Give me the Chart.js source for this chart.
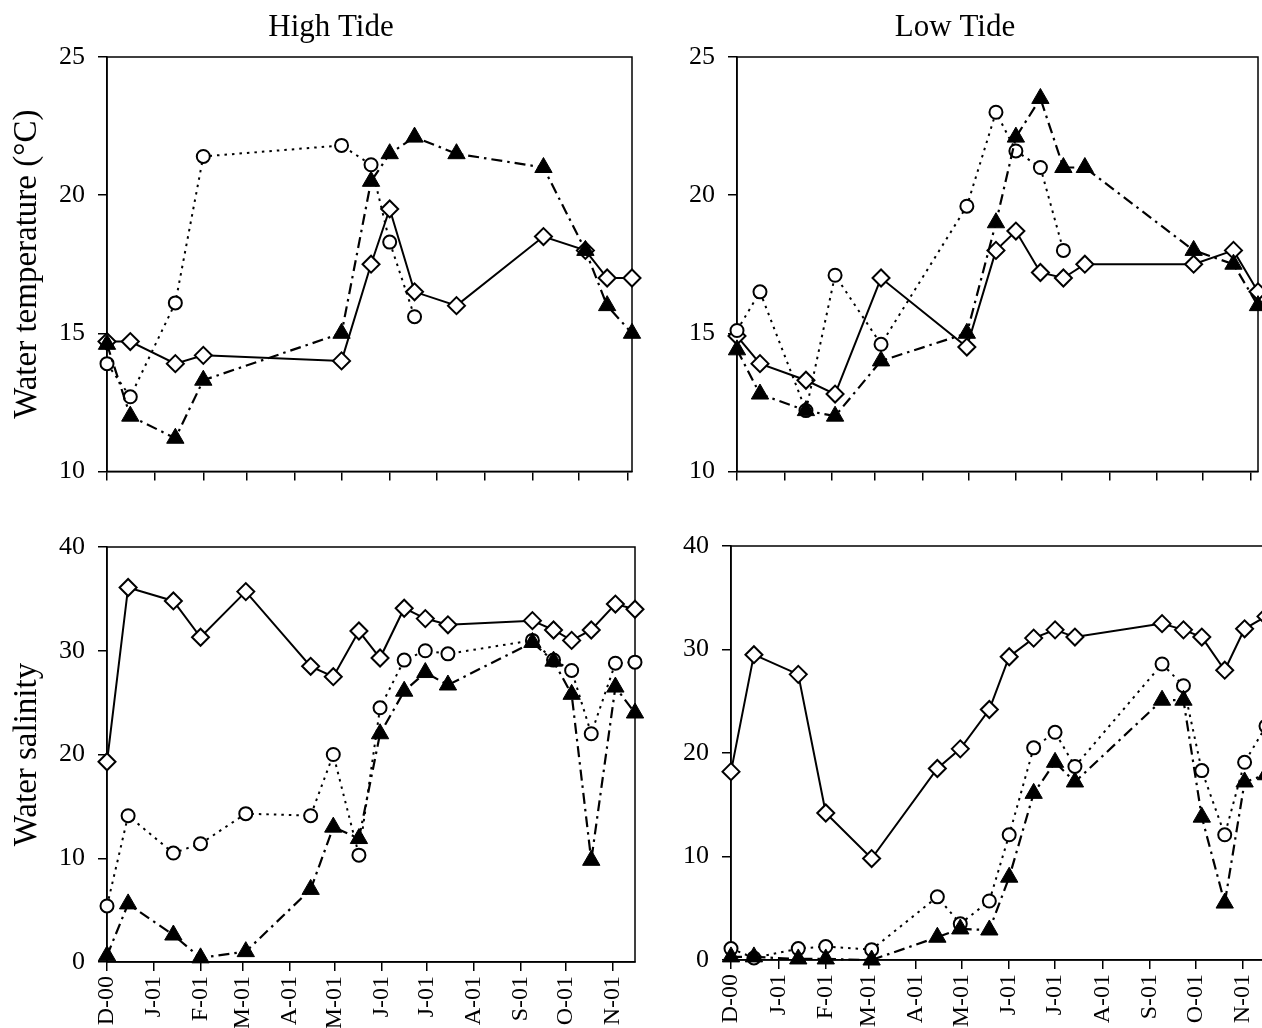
<!DOCTYPE html>
<html>
<head>
  <meta charset="UTF-8">
  <title>Water temperature and salinity at high and low tide</title>
  <script src="https://cdn.jsdelivr.net/npm/chart.js"></script>
  <style>
    html, body { margin: 0; padding: 0; background: #fff; overflow: hidden; }
    body { width: 1262px; height: 1028px; position: relative; }
    canvas { position: absolute; }
  </style>
</head>
<body>
  <canvas id="htTemp"></canvas>
  <canvas id="ltTemp"></canvas>
  <canvas id="htSal"></canvas>
  <canvas id="ltSal"></canvas>
  <script>
    // x is days since 1 Dec 2000, ticks on the first of each month
    const monthDays = [0, 31, 62, 90, 121, 151, 182, 212, 243, 274, 304, 335];
    const monthLabels = ["D-00", "J-01", "F-01", "M-01", "A-01", "M-01", "J-01", "J-01", "A-01", "S-01", "O-01", "N-01"];

    // high tide, temperature
    const htTempDays = [0, 15, 44, 62, 151, 170, 182, 198, 225, 281, 308, 322, 338];
    const htTempDiamond = [14.7, 14.7, 13.9, 14.2, 14.0, 17.5, 19.5, 16.5, 16.0, 18.5, 18.0, 17.0, 17.0];
    const htTempTriangle = [14.6, 12.0, 11.2, 13.3, 15.0, 20.5, 21.5, 22.1, 21.5, 21.0, 18.0, 16.0, 15.0];
    const htTempCircleDays = [0, 15, 44, 62, 151, 170, 182, 198];
    const htTempCircle = [13.9, 12.7, 16.1, 21.4, 21.8, 21.1, 18.3, 15.6];

    // low tide, temperature
    const ltTempDays = [0, 15, 45, 64, 94, 150, 169, 182, 198, 213, 227, 298, 324, 340];
    const ltTempDiamond = [14.9, 13.9, 13.3, 12.8, 17.0, 14.5, 18.0, 18.7, 17.2, 17.0, 17.5, 17.5, 18.0, 16.5];
    const ltTempTriangle = [14.4, 12.8, 12.2, 12.0, 14.0, 15.0, 19.0, 22.1, 23.5, 21.0, 21.0, 18.0, 17.5, 16.0];
    const ltTempCircleDays = [0, 15, 45, 64, 94, 150, 169, 182, 198, 213];
    const ltTempCircle = [15.1, 16.5, 12.2, 17.1, 14.6, 19.6, 23.0, 21.6, 21.0, 18.0];

    // high tide, salinity
    const htSalDays = [0, 14, 44, 62, 92, 135, 150, 167, 181, 197, 211, 226, 282, 296, 308, 321, 337, 350];
    const htSalDiamond = [19.3, 36.1, 34.8, 31.3, 35.7, 28.5, 27.5, 31.9, 29.3, 34.1, 33.1, 32.5, 32.9, 32.0, 31.0, 32.0, 34.5, 34.0];
    const htSalCircle = [5.4, 14.1, 10.5, 11.4, 14.3, 14.1, 20.0, 10.3, 24.5, 29.1, 30.0, 29.7, 31.0, 29.1, 28.1, 22.0, 28.8, 28.9];
    const htSalTriangle = [0.6, 5.6, 2.6, 0.4, 1.0, 7.0, 13.0, 11.9, 22.0, 26.1, 27.9, 26.7, 30.8, 29.0, 25.8, 9.8, 26.5, 24.0];

    // low tide, salinity
    const ltSalDays = [0, 15, 44, 62, 92, 135, 150, 169, 182, 198, 212, 225, 282, 296, 308, 323, 336, 350];
    const ltSalDiamond = [18.2, 29.5, 27.6, 14.2, 9.8, 18.5, 20.4, 24.2, 29.3, 31.1, 31.9, 31.2, 32.5, 31.9, 31.2, 28.0, 32.0, 33.2];
    const ltSalCircle = [1.1, 0.2, 1.1, 1.3, 1.0, 6.1, 3.5, 5.7, 12.1, 20.5, 22.0, 18.7, 28.6, 26.5, 18.3, 12.1, 19.1, 22.6];
    const ltSalTriangle = [0.3, 0.3, 0.1, 0.1, 0.0, 2.2, 3.0, 2.9, 8.0, 16.1, 19.1, 17.2, 25.1, 25.1, 13.8, 5.5, 17.2, 17.9];

    const serif = "'Liberation Serif', 'Times New Roman', serif";
    Chart.defaults.font.family = serif;
    Chart.defaults.color = "#000";
    Chart.defaults.animation = false;

    const ink = "#000";
    const styles = {
      triangle: {
        pointStyle: "triangle", pointRadius: 10, pointBackgroundColor: ink, pointBorderColor: ink,
        pointBorderWidth: 1, borderColor: ink, borderWidth: 2.2, borderDash: [11, 5, 2.5, 5]
      },
      circle: {
        pointStyle: "circle", pointRadius: 6.5, pointBackgroundColor: "#fff", pointBorderColor: ink,
        pointBorderWidth: 2, borderColor: ink, borderWidth: 2, borderDash: [2.5, 5]
      },
      diamond: {
        pointStyle: "rectRot", pointRadius: 8.5, pointBackgroundColor: "#fff", pointBorderColor: ink,
        pointBorderWidth: 2, borderColor: ink, borderWidth: 2
      }
    };

    // box round the plot area
    const frame = {
      id: "frame",
      beforeDatasetsDraw(chart) {
        const { ctx, chartArea: a } = chart;
        ctx.save();
        ctx.strokeStyle = ink;
        ctx.lineWidth = 1.5;
        ctx.strokeRect(a.left, a.top, a.right - a.left, a.bottom - a.top);
        ctx.restore();
      }
    };

    // "High Tide" / "Low Tide" above the top panels
    const panelTitle = {
      id: "panelTitle",
      afterDraw(chart, args, opts) {
        if (!opts.text) return;
        const ctx = chart.ctx;
        ctx.save();
        ctx.font = "31px " + serif;
        ctx.fillStyle = ink;
        ctx.textAlign = "center";
        ctx.textBaseline = "alphabetic";
        ctx.fillText(opts.text, opts.x, opts.y);
        ctx.restore();
      }
    };

    function pts(days, vals) {
      return vals.map((v, i) => ({ x: days[i], y: v }));
    }

    function panel(id, cfg) {
      const canvas = document.getElementById(id);
      canvas.width = cfg.w;
      canvas.height = cfg.h;
      canvas.style.left = cfg.x + "px";
      canvas.style.top = cfg.y + "px";
      const axisLine = { drawOnChartArea: false, tickLength: 9, color: ink, lineWidth: 1.5 };
      return new Chart(canvas, {
        type: "scatter",
        data: {
          datasets: cfg.series.map(([kind, days, vals]) => Object.assign({
            data: pts(days, vals), showLine: true, clip: false, fill: false, tension: 0
          }, styles[kind]))
        },
        options: {
          responsive: false,
          events: [],
          layout: { padding: cfg.pad },
          plugins: {
            legend: { display: false },
            tooltip: { enabled: false },
            panelTitle: cfg.title || {}
          },
          scales: {
            x: {
              type: "linear", min: 0, max: cfg.xMax,
              afterBuildTicks: s => { s.ticks = monthDays.map(v => ({ value: v })); },
              afterFit: s => { s.height = cfg.xH; },
              ticks: {
                display: cfg.xLabels, autoSkip: false, minRotation: 90, maxRotation: 90,
                padding: 5, font: { size: 24 }, color: ink,
                callback: (v, i) => monthLabels[i]
              },
              grid: axisLine,
              border: { color: ink, width: 1.5 }
            },
            y: {
              min: cfg.yMin, max: cfg.yMax,
              afterFit: s => { s.width = cfg.yW; },
              ticks: { stepSize: cfg.yStep, padding: 13, font: { size: 26 }, color: ink },
              grid: axisLine,
              border: { color: ink, width: 1.5 },
              title: {
                display: !!cfg.yTitle, text: cfg.yTitle, color: ink,
                font: { size: 33 }, padding: { top: 8, bottom: 0 }
              }
            }
          }
        },
        plugins: [frame, panelTitle]
      });
    }

    panel("htTemp", {
      x: 0, y: 0, w: 662, h: 500, pad: { left: 0, right: 30, top: 57, bottom: 18 },
      title: { text: "High Tide", x: 331, y: 36 },
      yTitle: "Water temperature (°C)", yW: 107, xH: 9, xLabels: false,
      xMax: 338, yMin: 10, yMax: 25, yStep: 5,
      series: [
        ["triangle", htTempDays, htTempTriangle],
        ["circle", htTempCircleDays, htTempCircle],
        ["diamond", htTempDays, htTempDiamond]
      ]
    });

    panel("ltTemp", {
      x: 640, y: 0, w: 630, h: 500, pad: { left: 0, right: 12, top: 57, bottom: 18 },
      title: { text: "Low Tide", x: 315, y: 36 },
      yW: 97, xH: 9, xLabels: false,
      xMax: 340, yMin: 10, yMax: 25, yStep: 5,
      series: [
        ["triangle", ltTempDays, ltTempTriangle],
        ["circle", ltTempCircleDays, ltTempCircle],
        ["diamond", ltTempDays, ltTempDiamond]
      ]
    });

    panel("htSal", {
      x: 0, y: 500, w: 662, h: 528, pad: { left: 0, right: 27, top: 47, bottom: 0 },
      yTitle: "Water salinity", yW: 107, xH: 66, xLabels: true,
      xMax: 350, yMin: 0, yMax: 40, yStep: 10,
      series: [
        ["triangle", htSalDays, htSalTriangle],
        ["circle", htSalDays, htSalCircle],
        ["diamond", htSalDays, htSalDiamond]
      ]
    });

    panel("ltSal", {
      x: 640, y: 500, w: 660, h: 528, pad: { left: 0, right: 34, top: 46, bottom: 0 },
      yW: 91, xH: 68, xLabels: true,
      xMax: 350, yMin: 0, yMax: 40, yStep: 10,
      series: [
        ["triangle", ltSalDays, ltSalTriangle],
        ["circle", ltSalDays, ltSalCircle],
        ["diamond", ltSalDays, ltSalDiamond]
      ]
    });
  </script>
</body>
</html>
